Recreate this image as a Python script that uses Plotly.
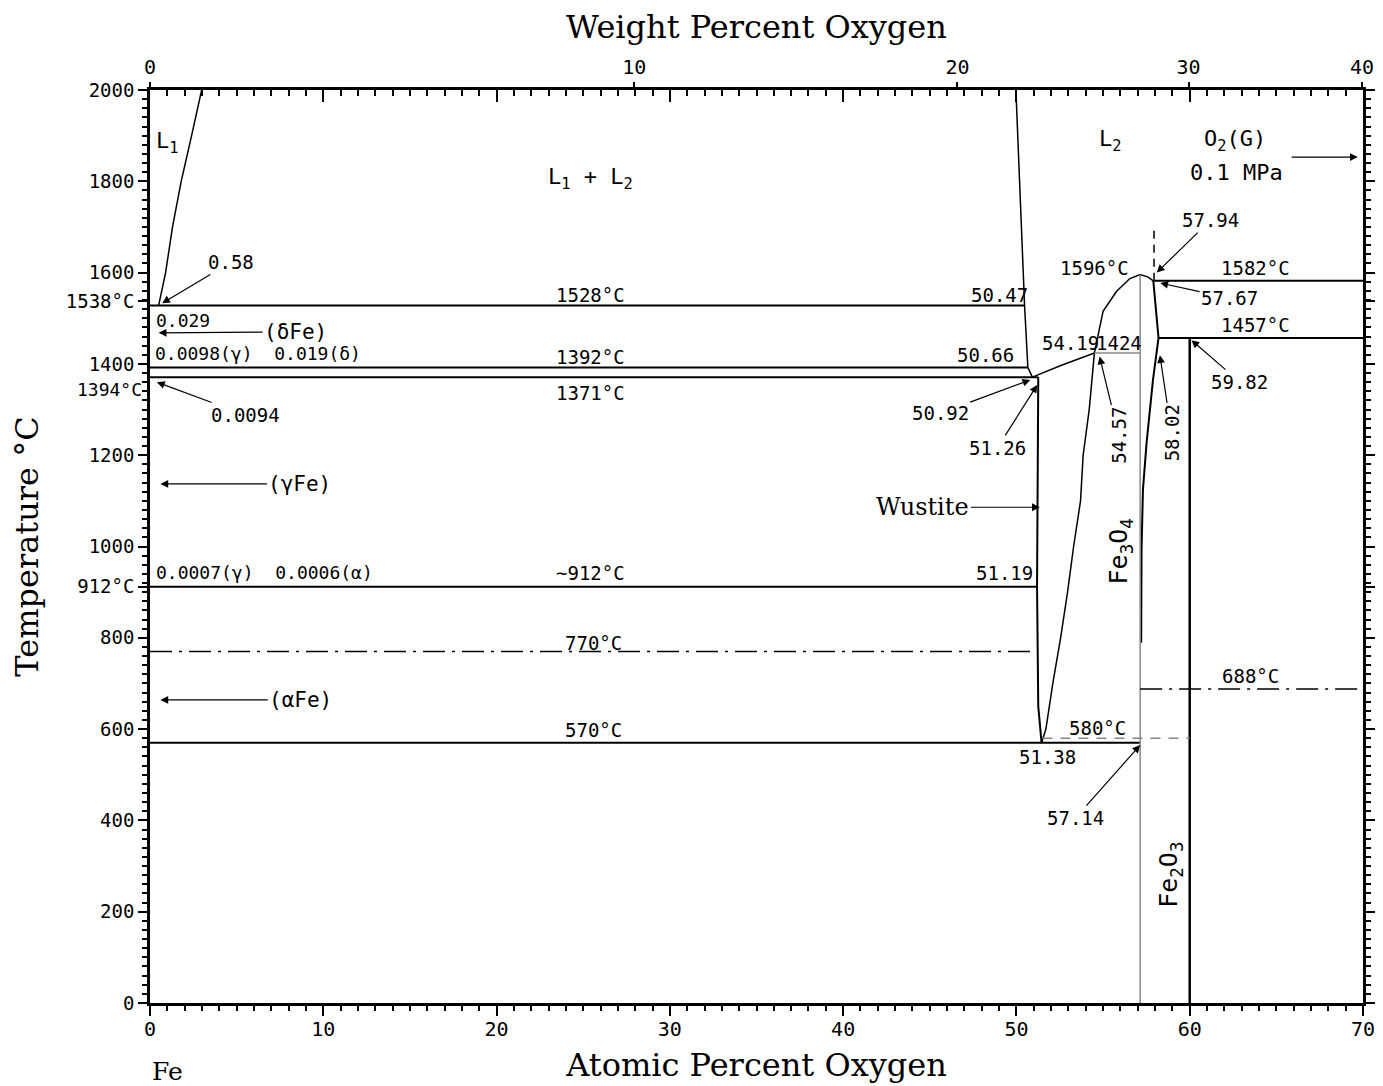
import plotly.graph_objects as go

FONT = "DejaVu Sans Mono"
TITLE_FONT = "DejaVu Serif"

# ---------------- axes ----------------
X_RANGE = [0, 70]
Y_RANGE = [0, 2000]
at_ticks = [0, 10, 20, 30, 40, 50, 60, 70]
temp_ticks = [0, 200, 400, 600, 800, 912, 1000, 1200, 1400, 1538, 1600, 1800, 2000]
temp_ticktext = ["0", "200", "400", "600", "800", "912°C", "1000", "1200", "1400",
                 "1538°C", "1600", "1800", "2000"]
wt_ticks = [0, 10, 20, 30, 40]


def wt_to_at(w):
    o = w / 16.0
    fe = (100.0 - w) / 55.845
    return 100.0 * o / (o + fe)


# ---------------- phase boundaries (at.% O, °C) ----------------
l1_liq_at = [0.5, 0.9, 1.3, 1.8, 2.4, 2.98]
l1_liq_T = [1528, 1600, 1700, 1800, 1900, 2000]

l2_liq_fe_at = [49.97, 50.1, 50.25, 50.47, 50.66, 50.92]
l2_liq_fe_T = [2000, 1880, 1720, 1528, 1392, 1371]

l2_liq_w_at = [50.92, 52.6, 54.5]
l2_liq_w_T = [1371, 1397, 1424]

dome_at = [54.5, 55.0, 55.78, 56.55, 57.14, 57.6, 57.9]
dome_T = [1424, 1515, 1559, 1587, 1596, 1590, 1582]

mag_o_at = [57.9, 58.2, 57.88, 57.51, 57.3, 57.22, 57.2]
mag_o_T = [1582, 1457, 1365, 1227, 1124, 992, 789]

wus_left_at = [51.26, 51.19, 51.26, 51.45]
wus_left_T = [1371, 912, 650, 570]

wus_right_at = [54.5, 54.2, 53.85, 53.7, 53.3, 52.95, 52.55, 52.1, 51.7, 51.45]
wus_right_T = [1424, 1300, 1200, 1100, 1000, 900, 800, 700, 600, 570]

# solid black isotherms
iso_T = [1528, 1392, 1371, 912, 570, 1582, 1457]
iso_x0 = [0, 0, 0, 0, 0, 57.9, 58.2]
iso_x1 = [50.47, 50.66, 51.26, 51.19, 57.14, 70, 70]

# gray lines
gray_iso_T = [1424]
gray_iso_x0 = [54.5]
gray_iso_x1 = [57.14]
magnetite_at = 57.14
magnetite_Tmax = 1596
hematite_at = 60.0
hematite_Tmax = 1457

# dashed / dash-dot lines
eutectoid_580_T = 580
eutectoid_580_x = [51.5, 60]
curie_T = [770, 688]
curie_x0 = [0, 57.14]
curie_x1 = [51.0, 70]
vert_dash_at = 57.94
vert_dash_T = [1582, 1700]

# ---------------- labels ----------------
plain_text = ["L<sub>1</sub>", "L<sub>1</sub> + L<sub>2</sub>", "L<sub>2</sub>", "O<sub>2</sub>(G)",
              "0.1 MPa", "1528°C", "50.47", "1392°C", "50.66", "1371°C", "54.19", "1424",
              "1596°C", "1582°C", "1457°C", "51.19", "~912°C", "770°C", "570°C", "580°C",
              "51.38", "688°C"]
plain_x = [1.0, 25.4, 55.4, 62.6, 62.7, 25.4, 49.0, 25.4, 48.2, 25.4, 53.1, 55.9,
           54.5, 63.8, 63.8, 49.3, 25.4, 25.6, 25.6, 54.7, 51.8, 63.5]
plain_y = [1885, 1807, 1890, 1890, 1820, 1551, 1551, 1415, 1419, 1336, 1446, 1446,
           1610, 1610, 1485, 942, 942, 789, 598, 602, 539, 716]
big_labels = {"L<sub>1</sub>", "L<sub>1</sub> + L<sub>2</sub>", "L<sub>2</sub>",
              "O<sub>2</sub>(G)", "0.1 MPa"}

left_text = ["0.029", "0.0098(γ)  0.019(δ)", "0.0007(γ)  0.0006(α)"]
left_x = [0.25, 0.15, 0.25]
left_y = [1496, 1422, 944]

rot_text = ["Fe<sub>3</sub>O<sub>4</sub>", "Fe<sub>2</sub>O<sub>3</sub>"]
rot_x = [56.0, 58.9]
rot_y = [990, 280]

arrow_text = ["0.58", "0.0094", "(δFe)", "(γFe)", "(αFe)", "50.92", "51.26", "57.94",
              "57.67", "59.82", "57.14", "Wustite", ""]
arrow_hx = [0.7, 0.4, 0.5, 0.6, 0.6, 50.8, 51.2, 58.1, 58.3, 60.1, 57.14, 51.35, 69.7]
arrow_hy = [1533, 1360, 1468, 1137, 664, 1365, 1354, 1600, 1577, 1452, 565, 1086, 1853]
arrow_tx = [4.7, 5.5, 8.4, 8.65, 8.7, 45.6, 48.9, 61.2, 62.3, 62.9, 53.4, 44.6, 65.8]
arrow_ty = [1623, 1288, 1470, 1137, 664, 1292, 1216, 1715, 1544, 1360, 405, 1086, 1853]

rot_arrow_text = ["54.57", "58.02"]
rot_arrow_hx = [54.8, 58.28]
rot_arrow_hy = [1416, 1419]
rot_arrow_tx = [55.9, 58.95]
rot_arrow_ty = [1244, 1249]

fig = go.Figure()


def line(x, y, color="black", width=2, dash="solid"):
    fig.add_trace(go.Scatter(x=x, y=y, mode="lines", hoverinfo="skip", showlegend=False,
                             line=dict(color=color, width=width, dash=dash)))


line(l1_liq_at, l1_liq_T, width=1.5)
line(l2_liq_fe_at, l2_liq_fe_T, width=1.5)
line(l2_liq_w_at, l2_liq_w_T, width=1.5)
line(dome_at, dome_T, width=1.5)
line(mag_o_at, mag_o_T, width=2)
line(wus_left_at, wus_left_T, width=2)
line(wus_right_at, wus_right_T, width=1.5)
for T, a, b in zip(iso_T, iso_x0, iso_x1):
    line([a, b], [T, T], width=2)
for T, a, b in zip(gray_iso_T, gray_iso_x0, gray_iso_x1):
    line([a, b], [T, T], color="#888888", width=1.5)
line([magnetite_at, magnetite_at], [Y_RANGE[0], magnetite_Tmax], color="#888888", width=1.5)
line([hematite_at, hematite_at], [Y_RANGE[0], hematite_Tmax], width=2.5)
line(eutectoid_580_x, [eutectoid_580_T, eutectoid_580_T], color="#888888", width=1.5,
     dash="10px,8px")
for T, a, b in zip(curie_T, curie_x0, curie_x1):
    line([a, b], [T, T], width=1.5, dash="22px,7px,3px,7px")
line([vert_dash_at, vert_dash_at], vert_dash_T, width=1.5, dash="8px,6px")

# invisible carriers so that the two top axes are drawn
for ax in ("x2", "x3"):
    fig.add_trace(go.Scatter(x=X_RANGE, y=Y_RANGE, xaxis=ax, yaxis="y", mode="lines",
                             line=dict(width=0, color="rgba(0,0,0,0)"),
                             hoverinfo="skip", showlegend=False))

ann = []
for t, x, y in zip(plain_text, plain_x, plain_y):
    ann.append(dict(text=t, x=x, y=y, xref="x", yref="y", showarrow=False,
                    font=dict(family=FONT, size=22 if t in big_labels else 19, color="black")))
for t, x, y in zip(left_text, left_x, left_y):
    ann.append(dict(text=t, x=x, y=y, xref="x", yref="y", showarrow=False, xanchor="left",
                    font=dict(family=FONT, size=18, color="black")))
for t, x, y in zip(rot_text, rot_x, rot_y):
    ann.append(dict(text=t, x=x, y=y, xref="x", yref="y", showarrow=False, textangle=-90,
                    font=dict(family=FONT, size=25, color="black")))
for t, hx, hy, tx, ty in zip(arrow_text, arrow_hx, arrow_hy, arrow_tx, arrow_ty):
    is_big = t in ("Wustite", "(δFe)", "(γFe)", "(αFe)")
    ann.append(dict(text=t, x=hx, y=hy, ax=tx, ay=ty, xref="x", yref="y", axref="x", ayref="y",
                    showarrow=True, arrowhead=2, arrowsize=1.3, arrowwidth=1.2,
                    arrowcolor="black",
                    font=dict(family=TITLE_FONT if t == "Wustite" else FONT,
                              size=24 if t == "Wustite" else (21 if is_big else 19),
                              color="black")))
for t, hx, hy, tx, ty in zip(rot_arrow_text, rot_arrow_hx, rot_arrow_hy, rot_arrow_tx, rot_arrow_ty):
    ann.append(dict(text=t, x=hx, y=hy, ax=tx, ay=ty, xref="x", yref="y", axref="x", ayref="y",
                    showarrow=True, arrowhead=2, arrowsize=1.3, arrowwidth=1.2,
                    arrowcolor="black", textangle=-90,
                    font=dict(family=FONT, size=19, color="black")))
# extra y label and Fe end-member label
ann.append(dict(text="1394°C", x=0, y=1394, xref="paper", yref="y", xanchor="right",
                xshift=-6, yshift=-23, showarrow=False,
                font=dict(family=FONT, size=18, color="black")))
ann.append(dict(text="Fe", x=0, y=0, xref="x", yref="paper", xanchor="left", yanchor="top",
                yshift=-52, showarrow=False,
                font=dict(family=TITLE_FONT, size=25, color="black")))

axis_common = dict(showgrid=False, zeroline=False)

# the page body adds an 8px offset, so the figure is 8px smaller and margins shifted
fig.update_layout(
    width=1375, height=1078,
    margin=dict(l=142, r=20, t=82, b=83, autoexpand=False),
    paper_bgcolor="white", plot_bgcolor="white",
    showlegend=False,
    annotations=ann,
    xaxis=dict(range=X_RANGE, tickmode="array", tickvals=at_ticks,
               ticks="outside", ticklen=10, tickwidth=2, tickcolor="black",
               minor=dict(dtick=1, tick0=0, ticks="outside", ticklen=5, tickwidth=1.5,
                          tickcolor="black"),
               showline=True, linewidth=2.5, linecolor="black", mirror=True,
               ticklabelstandoff=-4,
               tickfont=dict(family=FONT, size=20, color="black"),
               title=dict(text="Atomic Percent Oxygen", standoff=14,
                          font=dict(family=TITLE_FONT, size=32, color="black")),
               **axis_common),
    xaxis2=dict(range=X_RANGE, overlaying="x", side="top", anchor="y",
                tickmode="array", tickvals=[wt_to_at(w) for w in wt_ticks],
                ticktext=[str(w) for w in wt_ticks],
                ticks="outside", ticklen=7, tickwidth=2, tickcolor="black",
                showline=False, tickfont=dict(family=FONT, size=20, color="black"),
                title=dict(text="Weight Percent Oxygen", standoff=12,
                           font=dict(family=TITLE_FONT, size=32, color="black")),
                **axis_common),
    xaxis3=dict(range=X_RANGE, overlaying="x", side="top", anchor="y",
                tickmode="array", tickvals=at_ticks, showticklabels=False,
                ticks="inside", ticklen=12, tickwidth=2, tickcolor="black",
                minor=dict(dtick=1, tick0=0, ticks="inside", ticklen=6, tickwidth=1.5,
                           tickcolor="black"),
                showline=False, **axis_common),
    yaxis=dict(range=Y_RANGE, tickmode="array", tickvals=temp_ticks, ticktext=temp_ticktext,
               ticks="outside", ticklen=9, tickwidth=2, tickcolor="black",
               minor=dict(dtick=20, tick0=0, ticks="outside", ticklen=5, tickwidth=1.5,
                          tickcolor="black"),
               showline=True, linewidth=2.5, linecolor="black", mirror="ticks",
               tickfont=dict(family=FONT, size=19, color="black"),
               title=dict(text="Temperature °C", standoff=24,
                          font=dict(family=TITLE_FONT, size=32, color="black")),
               **axis_common),
)

fig.write_html("out.html")
